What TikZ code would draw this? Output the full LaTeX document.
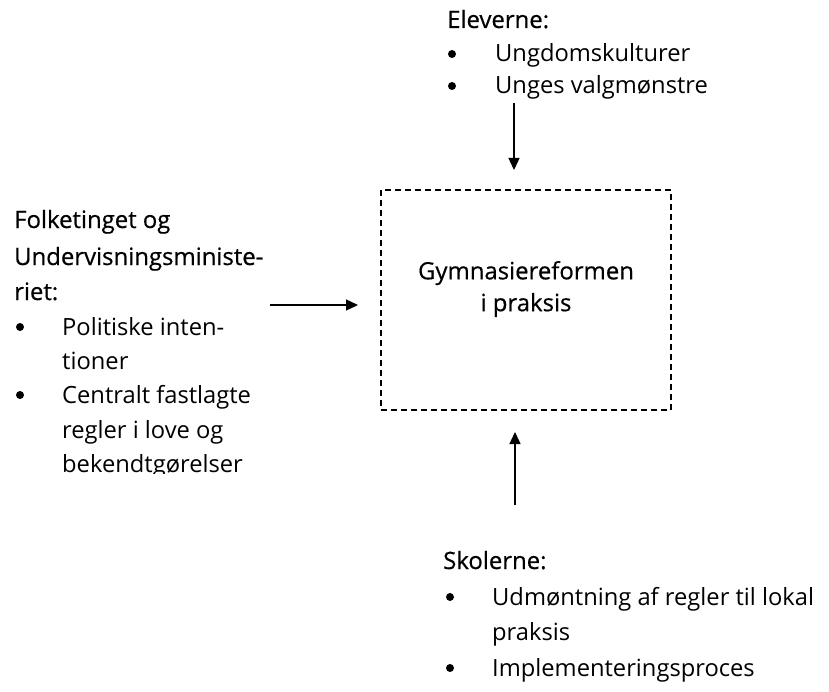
\documentclass[tikz,border=0pt]{standalone}
\usepackage{fontspec}
\setmainfont{Open Sans}
\newfontfamily\headfont[FakeBold=0.5]{Open Sans}
\usetikzlibrary{arrows.meta}
\tikzset{
  head/.style={anchor=base west, inner sep=0pt, font=\headfont\fontsize{24}{30}\selectfont},
  itemtext/.style={anchor=base west, inner sep=0pt, font=\fontsize{23.8}{30}\selectfont},
  dot/.style={circle, fill=black, inner sep=0pt, minimum size=8bp},
  flow/.style={line width=1.3bp, -{Triangle[length=12bp,width=11bp]}}
}
\begin{document}
\begin{tikzpicture}[x=1bp,y=-1bp]
  \useasboundingbox (0,0) rectangle (829,692);
  % dashed box in the middle
  \draw[line width=1.2bp, dash pattern=on 6bp off 4bp] (381,190) rectangle (671,410);
  \node[align=center, inner sep=0pt, font=\headfont\fontsize{24}{32}\selectfont] (reform) at (526,289) {Gymnasiereformen\\i praksis};
  % top block
  \node[head] (elevhead) at (447,28) {Eleverne:};
  \node[dot] (e1) at (452,54) {};
  \node[itemtext] (e1t) at (495,62) {Ungdomskulturer};
  \node[dot] (e2) at (452,86) {};
  \node[itemtext] (e2t) at (495,94) {Unges valgmønstre};
  % left block
  \begin{scope}
    \clip (0,180) rectangle (370,473);
    \node[head] (ftl1) at (14,228) {Folketinget og};
    \node[head] (ftl2) at (14,265) {Undervisningsministe-};
    \node[head] (ftl3) at (14,300) {riet:};
    \node[dot] (f1) at (20,327) {};
    \node[itemtext] (f1t) at (62,335) {Politiske inten-};
    \node[itemtext] (f1u) at (62,369) {tioner};
    \node[dot] (f2) at (20,395) {};
    \node[itemtext] (f2t) at (62,403) {Centralt fastlagte};
    \node[itemtext] (f2u) at (62,438) {regler i love og};
    \node[itemtext] (f2v) at (62,472) {bekendtgørelser};
  \end{scope}
  % bottom block
  \node[head] (skolhead) at (443,569) {Skolerne:};
  \node[dot] (s1) at (450,597) {};
  \node[itemtext] (s1t) at (492,605) {Udmøntning af regler til lokal};
  \node[itemtext] (s1u) at (492,640) {praksis};
  \node[dot] (s2) at (450,668) {};
  \node[itemtext] (s2t) at (492,676) {Implementeringsproces};
  % arrows
  \coordinate (topstart) at (514,103);
  \coordinate (topend) at (514,170);
  \coordinate (leftstart) at (270,305);
  \coordinate (leftend) at (358,305);
  \coordinate (botstart) at (515,505);
  \coordinate (botend) at (515,432);
  \draw[flow] (topstart) -- (topend);
  \draw[flow] (leftstart) -- (leftend);
  \draw[flow] (botstart) -- (botend);
\end{tikzpicture}
\end{document}
